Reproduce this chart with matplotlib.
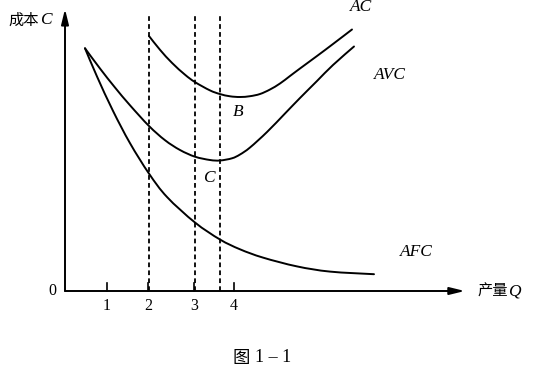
import matplotlib
matplotlib.use("Agg")
import matplotlib.pyplot as plt
from matplotlib.path import Path
from matplotlib.patches import PathPatch
from matplotlib.patches import ArrowStyle

# ---------------- data ----------------
afc_q = [0.476, 0.762, 1.143, 1.548, 2.000, 2.429, 3.095, 3.690, 4.167, 4.714,
         5.524, 6.310, 7.357]
afc_c = [9.708, 8.580, 7.204, 5.912, 4.696, 3.760, 2.740, 2.060, 1.668, 1.336,
         0.984, 0.776, 0.672]

avc_q = [0.476, 0.833, 1.190, 1.548, 2.000, 2.381, 2.738, 3.095, 3.452, 3.690,
         3.976, 4.167, 4.405, 4.810, 5.238, 5.595, 6.000, 6.381, 6.881]
avc_c = [9.708, 8.900, 8.140, 7.428, 6.600, 6.032, 5.640, 5.372, 5.240, 5.220,
         5.308, 5.460, 5.740, 6.360, 7.100, 7.720, 8.400, 9.040, 9.780]

ac_q = [2.000, 2.262, 2.548, 2.857, 3.095, 3.452, 3.690, 3.929, 4.167, 4.405,
        4.643, 4.881, 5.119, 5.357, 5.595, 6.000, 6.381, 6.833]
ac_c = [10.200, 9.648, 9.124, 8.652, 8.356, 8.024, 7.878, 7.788, 7.760, 7.792,
        7.880, 8.060, 8.300, 8.600, 8.900, 9.400, 9.880, 10.460]

dash_q = [2.00, 3.10, 3.69]
dash_top = 11.04

tick_pos = [1.00, 1.98, 3.07, 4.02]
tick_labels = ["1", "2", "3", "4"]

x_axis_end = 9.52
y_axis_end = 11.28

curve_labels = ["AC", "AVC", "AFC", "B", "C"]
curve_label_q = [7.04, 7.74, 8.36, 4.12, 3.42]
curve_label_c = [11.36, 8.64, 1.56, 7.16, 4.50]

# ---------------- figure ----------------
fig = plt.figure(figsize=(5.36, 3.75), dpi=100)
ax = fig.add_axes([0, 0, 1, 1])
ax.set_xlim(-65 / 42, 471 / 42)
ax.set_ylim(-84 / 25, 291 / 25)
ax.axis("off")

SERIF = "Liberation Serif"
CJK = "Noto Sans CJK SC"


def smooth_path(xs, ys):
    """Catmull-Rom curve through the given points, drawn as a Bezier path."""
    pts = list(zip(xs, ys))
    verts = [pts[0]]
    codes = [Path.MOVETO]
    n = len(pts)
    for i in range(n - 1):
        p0 = pts[i - 1] if i > 0 else pts[i]
        p1 = pts[i]
        p2 = pts[i + 1]
        p3 = pts[i + 2] if i + 2 < n else pts[i + 1]
        c1 = (p1[0] + (p2[0] - p0[0]) / 6, p1[1] + (p2[1] - p0[1]) / 6)
        c2 = (p2[0] - (p3[0] - p1[0]) / 6, p2[1] - (p3[1] - p1[1]) / 6)
        verts += [c1, c2, p2]
        codes += [Path.CURVE4] * 3
    return Path(verts, codes)


for qs, cs in [(afc_q, afc_c), (avc_q, avc_c), (ac_q, ac_c)]:
    ax.add_patch(PathPatch(smooth_path(qs, cs), fill=False, lw=1.4,
                           edgecolor="black", capstyle="round"))

# dashed verticals
for q in dash_q:
    ax.plot([q, q], [0, dash_top], color="black", lw=1.3,
            linestyle=(0, (2.6, 1.8)))

# axes with arrows
astyle = ArrowStyle("-|>", head_length=0.9, head_width=0.22)
ax.annotate("", xy=(x_axis_end, 0), xytext=(0, 0),
            arrowprops=dict(arrowstyle=astyle, mutation_scale=10, lw=1.4,
                            color="black", shrinkA=0, shrinkB=0))
ax.annotate("", xy=(0, y_axis_end), xytext=(0, 0),
            arrowprops=dict(arrowstyle=astyle, mutation_scale=10, lw=1.4,
                            color="black", shrinkA=0, shrinkB=0))

# ticks
for p, lab in zip(tick_pos, tick_labels):
    ax.plot([p, p], [0, 0.32], color="black", lw=1.2)
    ax.text(p, -0.58, lab, ha="center", va="center", fontsize=11.5,
            family=SERIF)
ax.text(-0.29, 0.0, "0", ha="center", va="center", fontsize=11.5, family=SERIF)

# curve labels
for lab, q, c in zip(curve_labels, curve_label_q, curve_label_c):
    ax.text(q, c, lab, ha="center", va="center", fontsize=12.5,
            family=SERIF, style="italic")

# axis titles
ax.text(-0.62, 10.84, "成本", ha="right", va="center", fontsize=11,
        family=[CJK, "DejaVu Sans"])
ax.text(-0.605, 10.84, "C", ha="left", va="center", fontsize=12.5,
        family=SERIF, style="italic")
ax.text(10.548, -0.02, "产量", ha="right", va="center", fontsize=11,
        family=[CJK, "DejaVu Sans"])
ax.text(10.56, -0.02, "Q", ha="left", va="center", fontsize=12.5,
        family=SERIF, style="italic")

# caption
ax.text(4.19, -2.68, "图", ha="center", va="center", fontsize=12.5,
        family=[CJK, "DejaVu Sans"])
ax.text(4.52, -2.68, "1 – 1", ha="left", va="center", fontsize=13,
        family=SERIF)

fig.savefig("out.png", dpi=100)
